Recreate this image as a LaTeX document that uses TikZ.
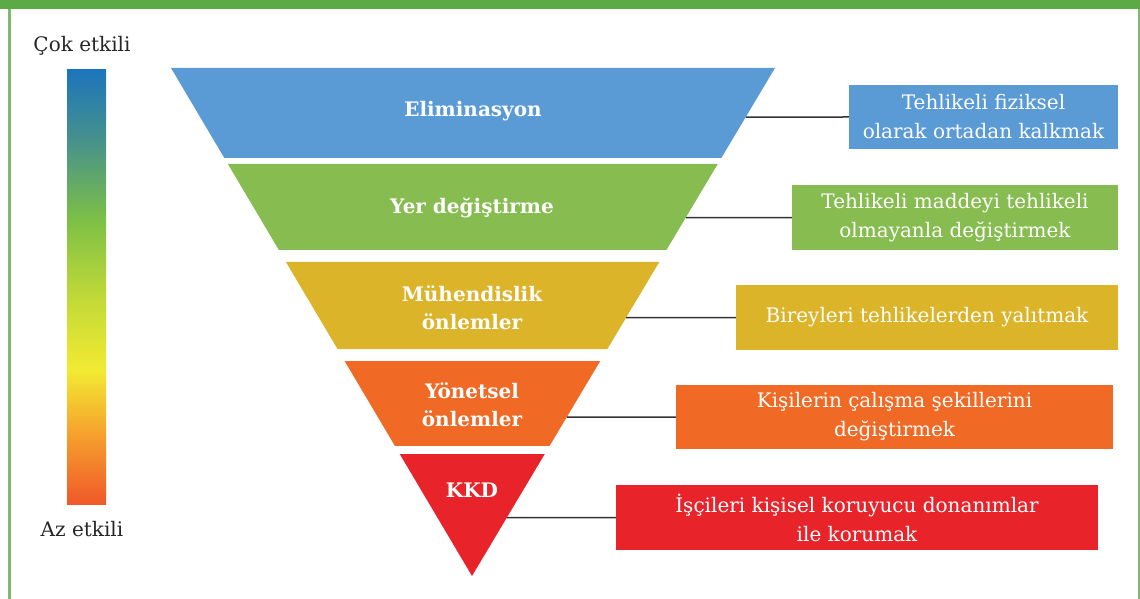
\documentclass[tikz,border=0pt]{standalone}
\usepackage{fontspec}
\setmainfont{DejaVu Serif}
\usepackage{xcolor}
\usetikzlibrary{calc,positioning}
\definecolor{framegreen}{RGB}{91,170,70}
\definecolor{elimblue}{RGB}{91,155,213}
\definecolor{subgreen}{RGB}{134,188,80}
\definecolor{enggold}{RGB}{219,180,42}
\definecolor{admorange}{RGB}{240,105,37}
\definecolor{ppered}{RGB}{232,35,42}
\definecolor{barblue}{RGB}{28,117,188}
\definecolor{barteal}{RGB}{70,145,140}
\definecolor{bargreen}{RGB}{125,192,70}
\definecolor{barlime}{RGB}{195,218,55}
\definecolor{baryellow}{RGB}{242,234,50}
\definecolor{barorange}{RGB}{246,165,45}
\definecolor{barred}{RGB}{240,88,40}
\pgfdeclareverticalshading{effect}{100bp}{color(0bp)=(barred); color(25bp)=(barred);
  color(33.5bp)=(barorange); color(40.4bp)=(baryellow); color(48.5bp)=(barlime);
  color(57.7bp)=(bargreen); color(67bp)=(barteal); color(75bp)=(barblue); color(100bp)=(barblue)}

\begin{document}
\begin{tikzpicture}[x=1pt, y=-1pt, font=\fontsize{20}{29}\selectfont,
  lvl/.style={text=white, font=\fontsize{20}{28}\selectfont\bfseries, align=center},
  txtbox/.style={text=white, align=center, inner sep=0pt},
  link/.style={line width=1.5pt, black!80},
  side/.style={text=black!85}]
  \useasboundingbox (0,0) rectangle (1140,599);
  % frame
  \fill[framegreen] (0,0) rectangle (1140,9);
  \draw[framegreen!80!white, line width=2.5pt] (9.5,9) -- (9.5,599);
  \draw[framegreen!80!white, line width=2pt] (1139,9) -- (1139,599);
  % effectiveness scale
  \node[shading=effect, minimum width=39, minimum height=434, inner sep=0pt] (scale) at (86.5,287) {};
  \node[side] (most) at (82,46) {Çok etkili};
  \node[side] (least) at (82,529) {Az etkili};
  % pyramid
  \coordinate (tl) at (171,68);
  \coordinate (tr) at (775,68);
  \coordinate (apex) at (472,576);
  \foreach \c/\yt/\yb in {elimblue/68/158, subgreen/164/250, enggold/262/349, admorange/361/446}
    \fill[\c] ($(tl)!{(\yt-68)/508}!(apex)$) -- ($(tr)!{(\yt-68)/508}!(apex)$)
      -- ($(tr)!{(\yb-68)/508}!(apex)$) -- ($(tl)!{(\yb-68)/508}!(apex)$) -- cycle;
  \fill[ppered] ($(tl)!{(454-68)/508}!(apex)$) -- ($(tr)!{(454-68)/508}!(apex)$) -- (apex) -- cycle;
  \node[lvl] (l1) at (473,111) {Eliminasyon};
  \node[lvl] (l2) at (472,208) {Yer değiştirme};
  \node[lvl] (l3) at (472,308) {Mühendislik\\önlemler};
  \node[lvl] (l4) at (472,405) {Yönetsel\\önlemler};
  \node[lvl] (l5) at (472,490) {KKD};
  % descriptions
  \node[txtbox, fill=elimblue, minimum width=269, minimum height=64] (b1) at (983.5,117) {Tehlikeli fiziksel\\olarak ortadan kalkmak};
  \node[txtbox, fill=subgreen, minimum width=326, minimum height=65] (b2) at (955,217.5) {Tehlikeli maddeyi tehlikeli\\olmayanla değiştirmek};
  \node[txtbox, fill=enggold, minimum width=382, minimum height=65] (b3) at (927,317.5) {Bireyleri tehlikelerden yalıtmak};
  \node[txtbox, fill=admorange, minimum width=437, minimum height=64] (b4) at (894.5,417) {Kişilerin çalışma şekillerini\\değiştirmek};
  \node[txtbox, fill=ppered, minimum width=482, minimum height=65] (b5) at (857,517.5) {İşçileri kişisel koruyucu donanımlar\\ile korumak};
  \foreach \b in {b1,b2,b3,b4,b5}
    \draw[link] (intersection of tr--apex and \b.west--\b.east) -- (\b.west);
\end{tikzpicture}
\end{document}
